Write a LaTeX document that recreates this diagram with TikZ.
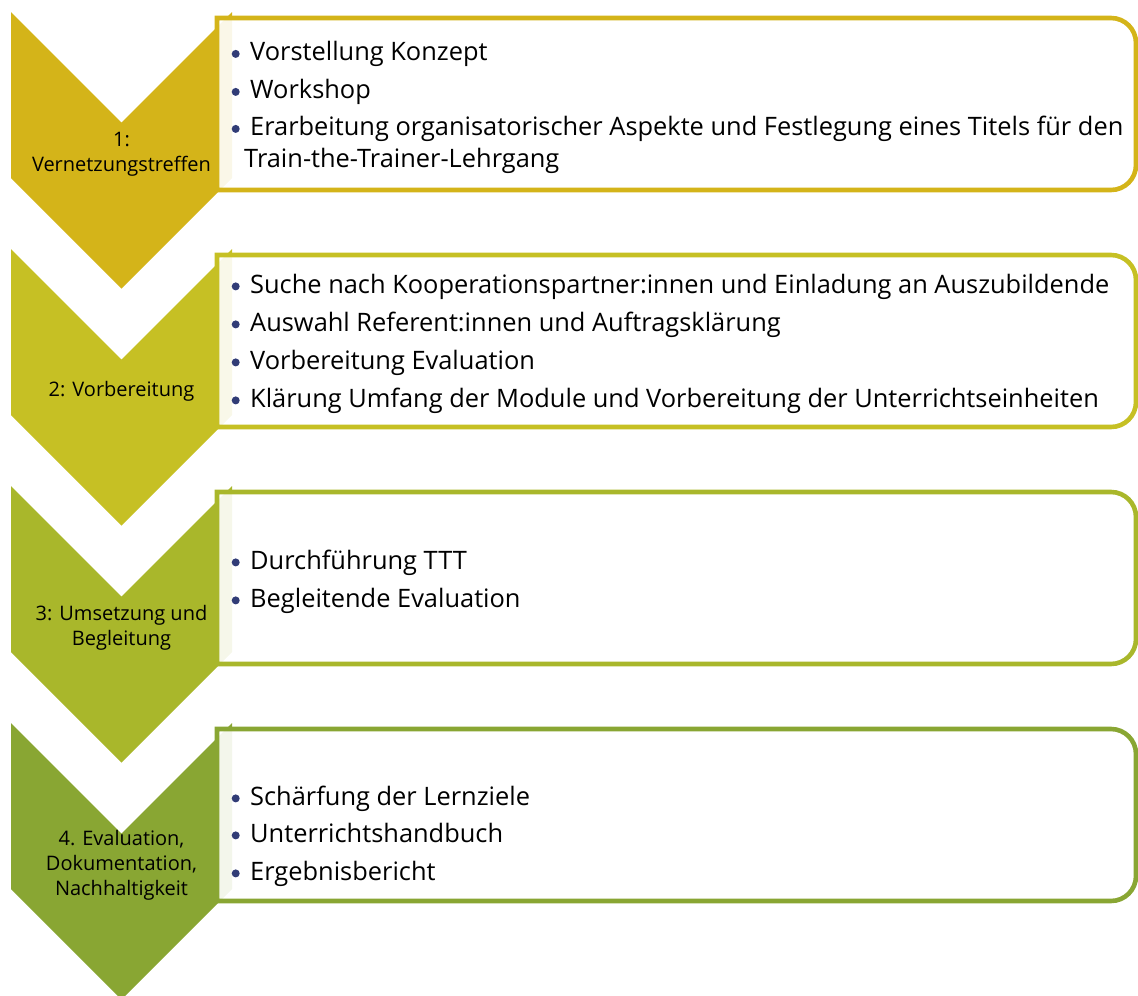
\documentclass[tikz,border=0pt]{standalone}
\usepackage{fontspec}
\setmainfont{Open Sans}
\definecolor{phaseA}{HTML}{D4B419}
\definecolor{phaseB}{HTML}{C6C024}
\definecolor{phaseC}{HTML}{A9B72B}
\definecolor{phaseD}{HTML}{89A633}
\definecolor{dotblue}{HTML}{313C76}

\begin{document}
\begin{tikzpicture}[x=1pt,y=-1pt,
  chevron/.style={fill=#1,draw=none},
  panel/.style={draw=#1,line width=4.6pt,fill=white,fill opacity=0.9,draw opacity=1},
  itemtext/.style={anchor=base west,inner sep=0pt,font=\fontsize{25.4}{30}\selectfont},
  bulletdot/.style={circle,fill=dotblue,draw=none,inner sep=0pt,minimum size=8pt},
  phaselabel/.style={anchor=base,inner sep=0pt,font=\fontsize{20}{25}\selectfont}
]
\useasboundingbox (0,0) rectangle (1138,996);

% chevron: top edge at #1
\newcommand\chevronat[2]{%
  \fill[chevron=#2] (11,#1) -- (121.5,#1+110.5) -- (232,#1) -- (232,#1+166)
    -- (121.5,#1+276.5) -- (11,#1+166) -- cycle;}
% panel with rounded right-hand corners: top and bottom edge
\newcommand\panelat[3]{%
  \path[panel=#3] (217,#1) -- (1111,#1)
    .. controls (1124.8,#1) and (1136,#1+11.2) .. (1136,#1+25)
    -- (1136,#2-25)
    .. controls (1136,#2-11.2) and (1124.8,#2) .. (1111,#2)
    -- (217,#2) -- cycle;}

% phase 1
\chevronat{12}{phaseA}
\panelat{18}{190}{phaseA}
% phase 2
\chevronat{249}{phaseB}
\panelat{255}{427}{phaseB}
% phase 3
\chevronat{486}{phaseC}
\panelat{492}{664}{phaseC}
% phase 4
\chevronat{723}{phaseD}
\panelat{729}{901}{phaseD}

% phase labels
\node[phaselabel] (p1a) at (121.5,146.7) {1:};
\node[phaselabel] (p1b) at (121.5,171.7) {Vernetzungstreffen};
\node[phaselabel] (p2a) at (121.5,396.7) {2: Vorbereitung};
\node[phaselabel] (p3a) at (121.5,620) {3: Umsetzung und};
\node[phaselabel] (p3b) at (121.5,645) {Begleitung};
\node[phaselabel] (p4a) at (121.5,845) {4. Evaluation,};
\node[phaselabel] (p4b) at (121.5,870) {Dokumentation,};
\node[phaselabel] (p4c) at (121.5,895) {Nachhaltigkeit};

% bullet items
\foreach \y/\txt [count=\i] in {
  60.5/Vorstellung Konzept,
  98.5/Workshop,
  135.5/Erarbeitung organisatorischer Aspekte und Festlegung eines Titels für den,
  293/Suche nach Kooperationspartner:innen und Einladung an Auszubildende,
  331/Auswahl Referent:innen und Auftragsklärung,
  369/Vorbereitung Evaluation,
  407/Klärung Umfang der Module und Vorbereitung der Unterrichtseinheiten,
  569/Durchführung TTT,
  607/Begleitende Evaluation,
  805/Schärfung der Lernziele,
  842/Unterrichtshandbuch,
  880/Ergebnisbericht}{
  \node[bulletdot] (dot\i) at (235.7,\y-6.6) {};
  \node[itemtext] (item\i) at (250,\y) {\txt};
}
\node[itemtext] (item3b) at (244,167) {Train-the-Trainer-Lehrgang};
\end{tikzpicture}
\end{document}
